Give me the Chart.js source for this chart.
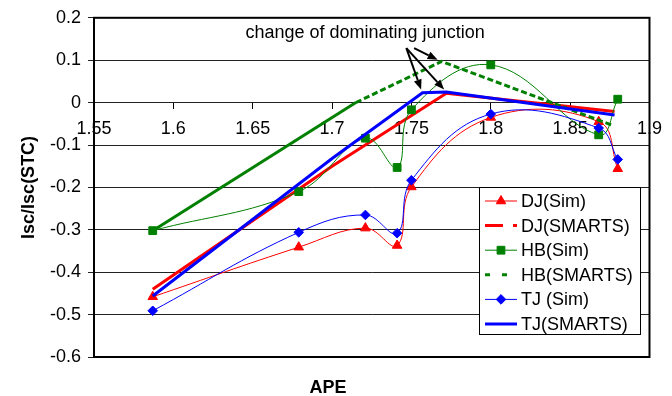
<!DOCTYPE html>
<html><head><meta charset="utf-8">
<script src="https://cdn.jsdelivr.net/npm/chart.js@4"></script>
<style>html,body{margin:0;padding:0;background:#fff;}canvas{display:block;}</style>
</head><body>
<canvas id="c" width="672" height="396"></canvas>
<script>
// ---- data ----
const simAPE = [1.587, 1.679, 1.721, 1.741, 1.750, 1.800, 1.868, 1.880];
const djSim  = [-0.458, -0.341, -0.296, -0.337, -0.199, -0.035, -0.045, -0.156];
const hbSim  = [-0.302, -0.210, -0.084, -0.153, -0.017, 0.089, -0.076, 0.008];
const tjSim  = [-0.491, -0.306, -0.265, -0.308, -0.183, -0.027, -0.060, -0.134];

const djSmartsAPE = [1.587, 1.700, 1.772, 1.878];
const djSmarts    = [-0.440, -0.150, 0.022, -0.021];
const hbSmartsAPE = [1.587, 1.715, 1.769, 1.877];
const hbSmarts    = [-0.302, 0.000, 0.097, -0.054];
const tjSmartsAPE = [1.587, 1.700, 1.757, 1.772, 1.878];
const tjSmarts    = [-0.456, -0.132, 0.023, 0.025, -0.029];

const seriesNames = ['DJ(Sim)', 'DJ(SMARTS)', 'HB(Sim)', 'HB(SMARTS)', 'TJ (Sim)', 'TJ(SMARTS)'];

const xTickValues = [1.55, 1.6, 1.65, 1.7, 1.75, 1.8, 1.85, 1.9];
const xTickLabels = ['1.55', '1.6', '1.65', '1.7', '1.75', '1.8', '1.85', '1.9'];
const yTickValues = [0.2, 0.1, 0, -0.1, -0.2, -0.3, -0.4, -0.5, -0.6];
const yTickLabels = ['0.2', '0.1', '0', '-0.1', '-0.2', '-0.3', '-0.4', '-0.5', '-0.6'];

const noteText = 'change of dominating junction';
const notePos = [1.7208, 0.152];
const arrowFrom = [[1.7468, 0.1285], [1.7468, 0.1285], [1.7517, 0.1285]];
const arrowTo   = [[1.7561, 0.031], [1.7706, 0.031], [1.7665, 0.101]];

// ---- helpers ----
const pts = (xs, ys) => xs.map((x, i) => ({x: x, y: ys[i]}));
const RED = '#ff0000', GREEN = '#008000', BLUE = '#0000ff';
const FONT = "'Liberation Sans', Arial, sans-serif";
Chart.defaults.font.family = FONT;
Chart.defaults.font.size = 18;
Chart.defaults.color = '#000';

const legendDash = [[], [18, 10, 4, 20], [], [5, 12], [], []];

function drawMarker(ctx, style, r, x, y, color) {
  ctx.save();
  ctx.fillStyle = color; ctx.strokeStyle = color; ctx.lineWidth = 1; ctx.setLineDash([]);
  ctx.beginPath();
  if (style === 'triangle') {
    ctx.moveTo(x, y - r);
    ctx.lineTo(x + r * 0.866, y + r * 0.5);
    ctx.lineTo(x - r * 0.866, y + r * 0.5);
  } else if (style === 'rect') {
    const s = r * Math.SQRT1_2;
    ctx.rect(x - s, y - s, 2 * s, 2 * s);
  } else {
    ctx.moveTo(x, y - r); ctx.lineTo(x + r, y); ctx.lineTo(x, y + r); ctx.lineTo(x - r, y);
  }
  ctx.closePath(); ctx.fill(); ctx.stroke();
  ctx.restore();
}

const decorPlugin = {
  id: 'decor',
  afterDatasetsDraw(chart) {
    const ctx = chart.ctx, a = chart.chartArea, xs = chart.scales.x, ys = chart.scales.y;
    ctx.save();
    // frame
    ctx.strokeStyle = '#000'; ctx.lineWidth = 2;
    ctx.strokeRect(a.left, a.top, a.right - a.left, a.bottom - a.top);
    // note
    ctx.fillStyle = '#000'; ctx.font = '18px ' + FONT;
    ctx.textAlign = 'center'; ctx.textBaseline = 'alphabetic';
    ctx.fillText(noteText, xs.getPixelForValue(notePos[0]), ys.getPixelForValue(notePos[1]));
    // arrows
    ctx.lineWidth = 2;
    for (let i = 0; i < arrowFrom.length; i++) {
      const x1 = xs.getPixelForValue(arrowFrom[i][0]), y1 = ys.getPixelForValue(arrowFrom[i][1]);
      const x2 = xs.getPixelForValue(arrowTo[i][0]), y2 = ys.getPixelForValue(arrowTo[i][1]);
      const ang = Math.atan2(y2 - y1, x2 - x1), L = 10, W = 4;
      const bx = x2 - L * Math.cos(ang), by = y2 - L * Math.sin(ang);
      ctx.beginPath(); ctx.moveTo(x1, y1); ctx.lineTo(bx, by); ctx.stroke();
      ctx.beginPath();
      ctx.moveTo(x2, y2);
      ctx.lineTo(bx + W * Math.sin(ang), by - W * Math.cos(ang));
      ctx.lineTo(bx - W * Math.sin(ang), by + W * Math.cos(ang));
      ctx.closePath(); ctx.fill();
    }
    ctx.restore();
  },
  afterDraw(chart) {
    const ctx = chart.ctx;
    const bx = 479.5, by = 187.5, bw = 161, bh = 147;
    ctx.save();
    ctx.fillStyle = '#fff'; ctx.fillRect(bx, by, bw, bh);
    ctx.strokeStyle = '#000'; ctx.lineWidth = 1; ctx.strokeRect(bx, by, bw, bh);
    ctx.font = '18px ' + FONT; ctx.textAlign = 'left'; ctx.textBaseline = 'middle';
    chart.data.datasets.forEach((ds, i) => {
      const y = 201 + i * 24.6;
      ctx.save();
      ctx.strokeStyle = ds.borderColor; ctx.lineWidth = ds.borderWidth;
      ctx.setLineDash(legendDash[i]);
      ctx.beginPath(); ctx.moveTo(485, y); ctx.lineTo(517, y); ctx.stroke();
      ctx.restore();
      if (ds.pointRadius > 0) drawMarker(ctx, ds.pointStyle, ds.pointRadius, 501, y, ds.pointBackgroundColor);
      ctx.fillStyle = '#000';
      ctx.fillText(ds.label, 521, y + 1);
    });
    ctx.restore();
  }
};

const simStyle = (color, style, r) => ({
  borderColor: color, backgroundColor: color, borderWidth: 1,
  pointStyle: style, pointRadius: r, pointBackgroundColor: color, pointBorderColor: color,
  pointBorderWidth: 1, tension: 0.4, fill: false
});
const smStyle = (color, dash) => ({
  borderColor: color, backgroundColor: color, borderWidth: 3, pointRadius: 0,
  borderDash: dash, tension: 0, fill: false
});

const hbSmartsDs = Object.assign({label: seriesNames[3], data: pts(hbSmartsAPE, hbSmarts), order: 3}, smStyle(GREEN, [6, 3]));
hbSmartsDs.segment = {borderDash: c => (c.p0DataIndex === 0 ? [] : [6, 3])};

new Chart(document.getElementById('c'), {
  type: 'line',
  data: {
    datasets: [
      Object.assign({label: seriesNames[0], data: pts(simAPE, djSim), order: 6}, simStyle(RED, 'triangle', 5.5)),
      Object.assign({label: seriesNames[1], data: pts(djSmartsAPE, djSmarts), order: 5}, smStyle(RED, [])),
      Object.assign({label: seriesNames[2], data: pts(simAPE, hbSim), order: 4}, simStyle(GREEN, 'rect', 5.5)),
      hbSmartsDs,
      Object.assign({label: seriesNames[4], data: pts(simAPE, tjSim), order: 2}, simStyle(BLUE, 'rectRot', 4.8)),
      Object.assign({label: seriesNames[5], data: pts(tjSmartsAPE, tjSmarts), order: 1}, smStyle(BLUE, []))
    ]
  },
  options: {
    responsive: false,
    devicePixelRatio: 1,
    animation: false,
    layout: {padding: {top: 14, right: 16, bottom: 0, left: 0}},
    plugins: {
      legend: {display: false},
      tooltip: {enabled: false},
      title: {
        display: true, position: 'bottom', text: 'APE', color: '#000',
        font: {size: 18, weight: 'bold', lineHeight: 0.8333}, padding: {top: 24, bottom: 0}
      }
    },
    scales: {
      x: {
        type: 'linear', min: 1.55, max: 1.9, position: {y: 0},
        afterFit(s) { s.height = 0; },
        afterBuildTicks(s) { s.ticks = xTickValues.map(v => ({value: v})); },
        ticks: {callback: (v, i) => xTickLabels[i], padding: 10, maxRotation: 0, autoSkip: false, color: '#000', font: {size: 18}},
        grid: {drawOnChartArea: false, drawTicks: true, tickLength: 6, color: '#000'},
        border: {display: false}
      },
      y: {
        type: 'linear', min: -0.6, max: 0.2,
        afterFit(s) { s.width = 94; },
        afterBuildTicks(s) { s.ticks = yTickValues.map(v => ({value: v})); },
        ticks: {callback: (v, i) => yTickLabels[i], padding: 7, autoSkip: false, color: '#000', font: {size: 18}},
        grid: {color: '#222', lineWidth: 1, drawTicks: true, tickLength: 6},
        border: {display: true, color: '#000', width: 2},
        title: {display: true, text: 'Isc/Isc(STC)', color: '#000', font: {size: 18, weight: 'bold', lineHeight: 1}, padding: {top: 20, bottom: 0}}
      }
    }
  },
  plugins: [decorPlugin]
});
</script>
</body></html>
